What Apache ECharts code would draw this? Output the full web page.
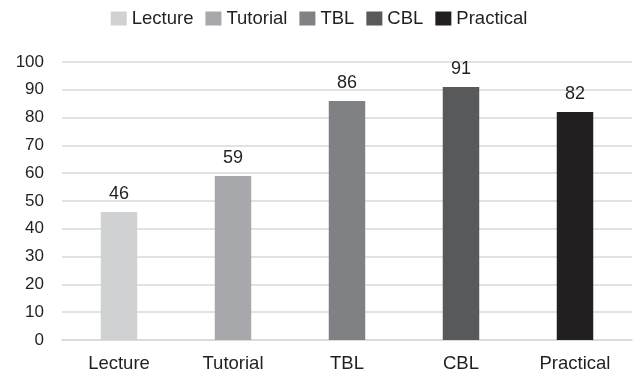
<!DOCTYPE html>
<html>
<head>
<meta charset="utf-8">
<script src="https://cdn.jsdelivr.net/npm/echarts@6/dist/echarts.min.js"></script>
<style>
  html, body { margin: 0; padding: 0; background: #fff; }
  #chart { width: 638px; height: 375px; }
</style>
</head>
<body>
<div id="chart"></div>
<script>
var categories = ['Lecture', 'Tutorial', 'TBL', 'CBL', 'Practical'];
var values = [46, 59, 86, 91, 82];
var colors = ['#d0d1d3', '#a7a8ab', '#808184', '#58595b', '#231f20'];
var yTicks = { min: 0, max: 100, interval: 10 };

var chart = echarts.init(document.getElementById('chart'));

// one series per category so the legend shows each one; stacked so bars stay centred
var series = categories.map(function (name, i) {
  return {
    name: name,
    type: 'bar',
    stack: 'all',
    barWidth: '32%',
    itemStyle: { color: colors[i] },
    label: {
      show: true,
      position: 'top',
      distance: 9,
      color: '#231f20',
      fontSize: 18,
      fontFamily: 'Liberation Sans'
    },
    data: values.map(function (v, j) { return j === i ? v : '-'; })
  };
});

chart.setOption({
  animation: false,
  textStyle: { fontFamily: 'Liberation Sans' },
  legend: {
    top: 4,
    left: 'center',
    itemWidth: 16,
    itemHeight: 14,
    itemGap: 12,
    icon: 'rect',
    textStyle: { fontSize: 18.5, color: '#231f20' },
    data: categories
  },
  grid: { left: 62, right: 6, top: 62, bottom: 35 },
  xAxis: {
    type: 'category',
    data: categories,
    axisLine: { lineStyle: { color: '#d9d9d9', width: 1.5 } },
    axisTick: { show: false },
    axisLabel: { fontSize: 18.5, color: '#231f20', margin: 14 }
  },
  yAxis: {
    type: 'value',
    min: yTicks.min,
    max: yTicks.max,
    interval: yTicks.interval,
    axisLine: { show: false },
    axisTick: { show: false },
    axisLabel: { fontSize: 17, color: '#231f20', margin: 18 },
    splitLine: { lineStyle: { color: '#d9d9d9', width: 1.5 } }
  },
  series: series
});
</script>
</body>
</html>
